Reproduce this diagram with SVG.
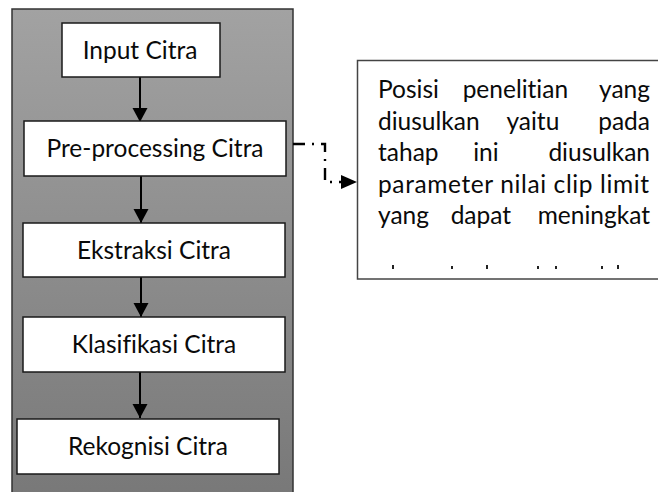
<svg xmlns="http://www.w3.org/2000/svg" width="658" height="492" viewBox="0 0 658 492">
  <defs>
    <linearGradient id="panelFill" x1="0" y1="0" x2="0" y2="1">
      <stop offset="0" stop-color="#a2a2a2"/>
      <stop offset="1" stop-color="#787878"/>
    </linearGradient>
    <marker id="arrowDown" markerUnits="userSpaceOnUse" markerWidth="16" markerHeight="16" viewBox="0 0 16 16" refX="14" refY="8" orient="auto">
      <path d="M0,0.5 L14,8 L0,15.5 Z" fill="#000"/>
    </marker>
    <marker id="arrowSide" markerUnits="userSpaceOnUse" markerWidth="18" markerHeight="16" viewBox="0 0 18 16" refX="16" refY="8" orient="auto">
      <path d="M0,1 L16,8 L0,15 Z" fill="#000"/>
    </marker>
  </defs>
  <style>
    .box { fill: #ffffff; stroke: #1a1a1a; stroke-width: 1.5; }
    .label, .para { font-family: Lato, "Liberation Sans", sans-serif; font-size: 24.5px; fill: #0a0a0a; font-variant-ligatures: none; font-feature-settings: "liga" 0, "clig" 0; }
    .label { text-anchor: middle; }
    .flow { stroke: #000; stroke-width: 2; fill: none; marker-end: url(#arrowDown); }
    .link { stroke: #000; stroke-width: 2.4; fill: none; stroke-dasharray: 12 7 2 7; marker-end: url(#arrowSide); }
  </style>

  <rect width="658" height="492" fill="#ffffff"/>

  <!-- grey background panel -->
  <rect id="panel" x="12" y="9" width="281" height="490" fill="url(#panelFill)" stroke="#333" stroke-width="1.5"/>

  <!-- connectors -->
  <g id="connectors">
    <line class="flow" x1="140" y1="77" x2="140" y2="122"/>
    <line class="flow" x1="141" y1="176" x2="141" y2="223"/>
    <line class="flow" x1="141" y1="277" x2="141" y2="317"/>
    <line class="flow" x1="140" y1="372" x2="140" y2="418"/>
    <path class="link" d="M293,144 H325 V182 H357"/>
  </g>

  <g id="input">
    <rect class="box" x="62" y="23" width="158" height="54"/>
    <text class="label" x="140" y="58.7">Input Citra</text>
  </g>

  <g id="preprocessing">
    <rect class="box" x="24" y="121" width="262" height="55"/>
    <text class="label" x="155" y="157.2">Pre-processing Citra</text>
  </g>

  <g id="ekstraksi">
    <rect class="box" x="23" y="223" width="262" height="54"/>
    <text class="label" x="154" y="258.7">Ekstraksi Citra</text>
  </g>

  <g id="klasifikasi">
    <rect class="box" x="23" y="317" width="262" height="55"/>
    <text class="label" x="154" y="353.2">Klasifikasi Citra</text>
  </g>

  <g id="rekognisi">
    <rect class="box" x="17" y="419" width="262" height="55"/>
    <text class="label" x="148" y="455.2">Rekognisi Citra</text>
  </g>

  <!-- note box, justified paragraph cut off at the bottom edge -->
  <g id="note">
    <rect x="357.5" y="60.5" width="310" height="218.5" fill="#ffffff" stroke="#444" stroke-width="1.5"/>
    <text class="para" y="98">
      <tspan x="378">Posisi</tspan>
      <tspan x="518.5" text-anchor="middle">penelitian</tspan>
      <tspan x="650" text-anchor="end">yang</tspan>
    </text>
    <text class="para" y="129.5">
      <tspan x="378">diusulkan</tspan>
      <tspan x="536" text-anchor="middle">yaitu</tspan>
      <tspan x="650" text-anchor="end">pada</tspan>
    </text>
    <text class="para" y="161">
      <tspan x="378">tahap</tspan>
      <tspan x="489" text-anchor="middle">ini</tspan>
      <tspan x="650" text-anchor="end">diusulkan</tspan>
    </text>
    <text class="para" x="378" y="192.5" textLength="271" lengthAdjust="spacing">parameter nilai clip limit</text>
    <text class="para" y="224">
      <tspan x="378">yang</tspan>
      <tspan x="484" text-anchor="middle">dapat</tspan>
      <tspan x="650" text-anchor="end">meningkat</tspan>
    </text>
    <!-- tops of the clipped next line -->
    <g fill="#222">
      <rect x="392" y="265" width="2" height="4"/>
      <rect x="451" y="266" width="2" height="3"/>
      <rect x="486" y="265" width="2" height="4"/>
      <rect x="537" y="266" width="2" height="3"/>
      <rect x="555" y="266" width="2" height="3"/>
      <rect x="601" y="266" width="2" height="3"/>
      <rect x="617" y="265" width="2" height="4"/>
    </g>
  </g>
</svg>
